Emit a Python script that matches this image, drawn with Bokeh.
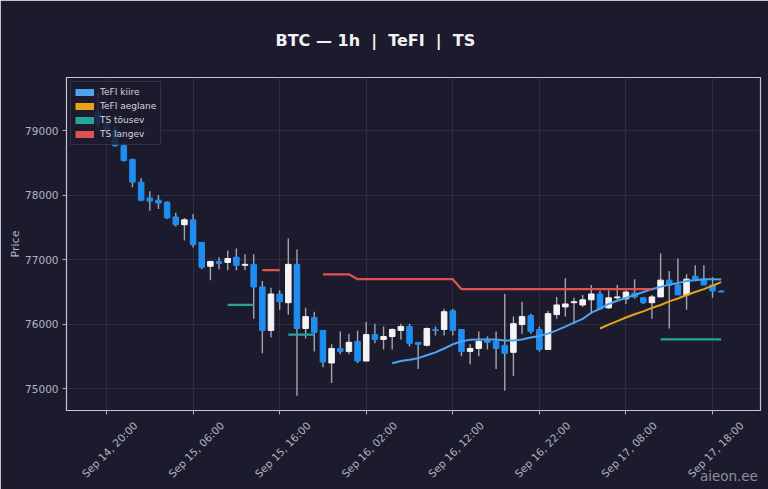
from math import pi
import numpy as np
import pandas as pd
from bokeh.plotting import figure
from bokeh.models import (ColumnDataSource, Range1d, FixedTicker, DatetimeAxis,
                          DatetimeTickFormatter, Legend, LegendItem, CustomJSTickFormatter)
from bokeh.embed import file_html
from bokeh.resources import INLINE

# hourly candles, first one at this time
start = "2025-09-14 19:00"

opens = [79300, 79120, 79000, 78770, 78555, 78205, 77960, 77925, 77895, 77665,
         77545, 77620, 77270, 76900, 76975, 76960, 77040, 76915, 76930, 76580,
         75905, 76470, 76335, 76930, 75935, 76105, 75905, 75400, 75625, 75580,
         75735, 75430, 75840, 75765, 75810, 75905, 75965, 75720, 75675, 75920,
         75920, 76210, 75920, 75580, 75625, 75750, 75735, 75675, 75565, 75995,
         76135, 75920, 75610, 76150, 76270, 76335, 76300, 76380, 76470, 76255,
         76410, 76395, 76485, 76410, 76335, 76425, 76685, 76610, 76455, 76745,
         76700, 76610, 76515]
highs = [79590, 79180, 79075, 78815, 78570, 78265, 78065, 78005, 77910, 77730,
         77650, 77710, 77270, 76975, 77040, 77145, 77175, 77085, 77085, 76670,
         76565, 76530, 77330, 77160, 76255, 76195, 75905, 75690, 75890, 75855,
         75905, 76040, 76010, 75965, 75935, 76010, 76010, 75720, 75950, 75965,
         76240, 76240, 75920, 75690, 75890, 75810, 75890, 76470, 76120, 76350,
         76165, 75965, 76210, 76425, 76715, 76410, 76455, 76610, 76515, 76530,
         76610, 76530, 76700, 76425, 76455, 77100, 76825, 77020, 76775, 76915,
         76915, 76730, 76530]
lows = [79060, 78960, 78755, 78525, 78125, 77910, 77760, 77790, 77635, 77515,
        77300, 77190, 76855, 76685, 76855, 76840, 76840, 76840, 76085, 75550,
        75795, 76225, 76150, 74890, 75780, 75580, 75335, 75090, 75535, 75535,
        75400, 75430, 75705, 75610, 75610, 75765, 75655, 75305, 75655, 75825,
        75825, 75825, 75505, 75380, 75505, 75610, 75305, 74970, 75200, 75855,
        75855, 75580, 75610, 76085, 76120, 76010, 76270, 76165, 76240, 76240,
        76380, 76315, 76395, 76315, 76085, 76425, 75935, 76455, 76225, 76700,
        76610, 76410, 76500]
closes = [79120, 79000, 78770, 78540, 78205, 77925, 77910, 77880, 77650, 77545,
          77620, 77235, 76885, 76975, 76945, 77020, 76915, 76930, 76580, 75905,
          76470, 76350, 76930, 75935, 76120, 75875, 75415, 75625, 75580, 75720,
          75430, 75840, 75765, 75810, 75920, 75965, 75705, 75690, 75935, 75905,
          76195, 75905, 75580, 75625, 75735, 75720, 75625, 75550, 76010, 76120,
          75890, 75610, 76165, 76300, 76315, 76350, 76380, 76470, 76240, 76410,
          76425, 76500, 76425, 76335, 76425, 76685, 76610, 76455, 76700, 76700,
          76610, 76515, 76500]

# TeFI lines (first candle index where they start)
kiire_from = 34
kiire = [75395, 75430, 75450, 75475, 75520, 75565, 75625, 75690, 75735, 75760,
         75765, 75765, 75765, 75750, 75750, 75765, 75795, 75820, 75855, 75905,
         75965, 76025, 76085, 76180, 76240, 76315, 76365, 76410, 76455, 76500,
         76545, 76580, 76615, 76640, 76670, 76685, 76700, 76700, 76695]
aeglane_from = 58
aeglane = [75935, 75995, 76050, 76105, 76155, 76200, 76255, 76300, 76355, 76400,
           76455, 76500, 76545, 76600, 76655]

# TS levels: pieces (first index, last index, level)
ts_up_pieces = [(15, 18, 76300), (22, 25, 75840), (65, 72, 75765)]
ts_dn_pieces = [(19, 21, 76840), (26, 29, 76775), (30, 41, 76700), (42, 64, 76545)]

y_ticks = [75000, 76000, 77000, 78000, 79000]
x_tick_labels = ["Sep 14, 20:00", "Sep 15, 06:00", "Sep 15, 16:00", "Sep 16, 02:00",
                 "Sep 16, 12:00", "Sep 16, 22:00", "Sep 17, 08:00", "Sep 17, 18:00"]

legend_names = ["TeFI kiire", "TeFI aeglane", "TS tõusev", "TS langev"]

BG = "#1c1b2e"
UP = "#f4f4f6"
DOWN = "#1f8ef1"
WICK = "#a4a4ae"
C_KIIRE = "#4ea3f0"
C_AEG = "#e8a317"
C_UP = "#26a69a"
C_DN = "#e05252"
TXT = "#b4b4c0"
FONT = "DejaVu Sans"
NB = "\u00a0"

t0 = pd.Timestamp(start)
n = len(opens)
times = pd.date_range(t0, periods=n, freq="h")


def full_series(pieces):
    arr = np.full(n, np.nan)
    for a, b, lvl in pieces:
        arr[a:b + 1] = lvl
    return arr


def padded(vals, first):
    arr = np.full(n, np.nan)
    arr[first:first + len(vals)] = vals
    return arr


o = np.array(opens, float)
c = np.array(closes, float)
up = c >= o
src = ColumnDataSource(dict(
    t=times, high=highs, low=lows,
    top=np.maximum(o, c), bottom=np.minimum(o, c),
    color=np.where(up, UP, DOWN),
))

x0 = t0 - pd.Timedelta(hours=3.62)
x1 = t0 + pd.Timedelta(hours=76.54)

# frame: x 66..760, y 73..410 of the 768x489 page
p = figure(width=768, height=489, x_axis_type="datetime",
           x_range=Range1d(x0, x1), y_range=Range1d(74663, 79828),
           output_backend="svg", toolbar_location=None,
           min_border_left=66, min_border_right=8, min_border_top=73, min_border_bottom=79,
           background_fill_color=BG, border_fill_color=BG)

p.title.text = ("BTC — 1h  |  TeFI  |  TS").replace("  ", NB + NB)
p.title.align = "left"
p.title.offset = 209
p.title.standoff = 56
p.title.text_line_height = 1.0
p.title.text_font = FONT
p.title.text_font_size = "16px"
p.title.text_font_style = "bold"
p.title.text_color = "#f2f2f4"

p.outline_line_color = "#c4c4d2"
p.outline_line_width = 1.2
p.grid.grid_line_color = "#34344c"
p.grid.grid_line_alpha = 0.7

tick_times = pd.to_datetime(["2025 " + s for s in x_tick_labels], format="%Y %b %d, %H:%M")
tick_ms = [ts.value / 1e6 for ts in tick_times]

p.xaxis.ticker = FixedTicker(ticks=tick_ms)
p.xaxis.formatter = CustomJSTickFormatter(code="return ''")
p.xaxis.major_label_standoff = 0
p.yaxis.ticker = FixedTicker(ticks=y_ticks)
p.yaxis.formatter.use_scientific = False
p.yaxis.major_label_standoff = 4
p.yaxis.axis_label = "Price"
p.yaxis.axis_label_standoff = 0
p.yaxis.axis_label_text_font = FONT
p.yaxis.axis_label_text_font_size = "11px"
p.yaxis.axis_label_text_font_style = "normal"
p.yaxis.axis_label_text_color = TXT
for ax in (p.xaxis, p.yaxis):
    ax.axis_line_color = None
    ax.major_tick_line_color = TXT
    ax.major_tick_out = 4
    ax.major_tick_in = 0
    ax.minor_tick_line_color = None
    ax.major_label_text_color = TXT
    ax.major_label_text_font = FONT
    ax.major_label_text_font_size = "10.5px"

# tick labels on a second axis, shifted so each rotated label sits centred on its tick
shift = pd.Timedelta(hours=3.35)
p.extra_x_ranges = {"lab": Range1d(x0 - shift, x1 - shift)}
fmt = "%b %d, %H:%M"
lab_axis = DatetimeAxis(x_range_name="lab", ticker=FixedTicker(ticks=tick_ms),
                        formatter=DatetimeTickFormatter(
                            milliseconds=fmt, seconds=fmt, minsec=fmt, minutes=fmt,
                            hourmin=fmt, hours=fmt, days=fmt, months=fmt, years=fmt),
                        major_label_orientation=pi / 4, major_label_standoff=9,
                        major_tick_out=0, major_tick_in=0, major_tick_line_color=None,
                        minor_tick_line_color=None, axis_line_color=None,
                        major_label_text_color=TXT, major_label_text_font=FONT,
                        major_label_text_font_size="10.5px")

# the watermark rides on that axis as its label (centred on the frame, so it is
# pushed to the right edge with leading no-break spaces)
lab_axis.axis_label = NB * 147 + "aieon.ee"
lab_axis.axis_label_standoff = -19
lab_axis.axis_label_text_font = FONT
lab_axis.axis_label_text_font_size = "13.5px"
lab_axis.axis_label_text_font_style = "normal"
lab_axis.axis_label_text_color = "#8e8e9a"
p.add_layout(lab_axis, "below")

# candles
p.segment(x0="t", x1="t", y0="low", y1="high", source=src, line_color=WICK, line_width=1.4)
p.vbar(x="t", width=0.64 * 3600 * 1000, top="top", bottom="bottom", source=src,
       fill_color="color", line_color="color", line_width=1)

# indicator lines
p.line(times, padded(kiire, kiire_from), line_color=C_KIIRE, line_width=2)
p.line(times, padded(aeglane, aeglane_from), line_color=C_AEG, line_width=2)
p.line(times, full_series(ts_up_pieces), line_color=C_UP, line_width=2.2)
p.line(times, full_series(ts_dn_pieces), line_color=C_DN, line_width=2.2)

# legend with colour patches (one NaN point each, so nothing shows in the plot)
items = []
for name, col in zip(legend_names, [C_KIIRE, C_AEG, C_UP, C_DN]):
    r = p.line(x=[t0], y=[np.nan], line_color=col, line_width=7)
    items.append(LegendItem(label=name, renderers=[r]))
legend = Legend(items=items, location="top_left", margin=4, padding=4, spacing=2,
                glyph_width=19, glyph_height=12, label_height=12, label_standoff=6,
                label_text_font=FONT, label_text_font_size="9px", label_text_color="#d4d4dc",
                background_fill_color=BG, background_fill_alpha=0.85,
                border_line_color="#4a4a60", border_line_width=1)
p.add_layout(legend)

html = file_html(p, INLINE).replace("<body>", '<body style="background:%s">' % BG, 1)
open("out.html", "w", encoding="utf-8").write(html)
